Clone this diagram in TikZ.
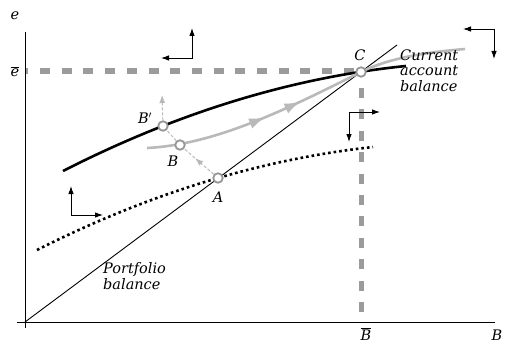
\documentclass[tikz,border=0pt]{standalone}
\usepackage{fontspec}
\setmainfont{DejaVu Serif}
\usetikzlibrary{arrows.meta,decorations.markings}
\definecolor{lg}{RGB}{185,185,185}
\definecolor{dg}{RGB}{155,155,155}
\definecolor{cg}{RGB}{150,150,150}
\begin{document}
\begin{tikzpicture}[x=1pt,y=-1pt,
  lab/.style={font=\fontsize{14.5}{15.5}\selectfont\itshape, inner sep=0pt},
  axisline/.style={line width=0.9pt},
  pt/.style={circle, draw=cg, fill=white, line width=1.8pt, minimum size=9.5pt, inner sep=0pt},
  elbow/.style={line width=0.9pt, {Latex[length=8pt,width=5.5pt]}-{Latex[length=8pt,width=5.5pt]}},
  hguide/.style={dg, line width=5.5pt, dash pattern=on 10pt off 11.7pt, dash phase=6.7pt},
  vguide/.style={dg, line width=4.5pt, dash pattern=on 10pt off 11.4pt},
  dotcurve/.style={line width=2.6pt, dash pattern=on 2.6pt off 3pt},
  blackcurve/.style={line width=2.6pt},
  graycurve/.style={lg, line width=2.6pt},
  thinguide/.style={lg, line width=1pt, dash pattern=on 3pt off 2pt},
]
\useasboundingbox (0,0) rectangle (505,345);

% points
\coordinate (O) at (25,322);
\coordinate (ytop) at (25,32);
\coordinate (ybot) at (25,328);
\coordinate (xleft) at (17,322);
\coordinate (xright) at (495,322);
\coordinate (ebar) at (25,71);
\coordinate (vtop) at (361.5,88);
\coordinate (vbot) at (361.5,313);
\coordinate (pbend) at (397,45);

% guides
\draw[hguide] (ebar) -- (361,71);
\draw[vguide] (vtop) -- (vbot);

% axes
\draw[axisline] (ytop) -- (ybot);
\draw[axisline] (xleft) -- (xright);

% portfolio balance line
\draw[line width=0.9pt] (O) -- (pbend);

% dotted curve
\draw[dotcurve] (37,250) .. controls (149,193.5) and (261,159.2) .. (373,147);

% black curve
\draw[blackcurve] (63,171) .. controls (177.7,112.5) and (292.1,77.5) .. (406,66);

% gray curve
\draw[graycurve, decoration={markings,
   mark=at position 0.365 with {\arrow{Latex[length=16pt,width=11pt]}},
   mark=at position 0.48 with {\arrow{Latex[length=16pt,width=11pt]}}}, postaction={decorate}]
  (147,148) .. controls (217,144.5) and (291,107) .. (361,72) .. controls (391,57) and (430,52) .. (465,49);

% equilibrium points
\node[pt] (A) at (218,178) {};
\node[pt] (B) at (180,145) {};
\node[pt] (Bp) at (163,126) {};
\node[pt] (C) at (361,72) {};
\coordinate (Bup) at (162,95);

% adjustment path
\draw[thinguide, decoration={markings,
   mark=at position 0.63 with {\arrow[solid]{Latex[length=8pt,width=6pt]}}}, postaction={decorate}] (A) -- (B);
\draw[thinguide] (B) -- (Bp);
\draw[thinguide, -{Latex[length=8pt,width=6pt]}] (Bp) -- (Bup);

% labels
\node[lab] (le) at (15,16) {e};
\node[lab] (lebar) at (15,72) {$\overline{\mbox{\itshape e}}$};
\node[lab] (lC) at (360,55) {C};
\node[lab] (lBp) at (145,118) {B$'$};
\node[lab] (lB) at (173,161) {B};
\node[lab] (lA) at (218,197) {A};
\node[lab] (lBbar) at (366,334) {$\overline{\mbox{\itshape B}}$};
\node[lab] (lBax) at (497,335) {B};
\node[lab, align=left, anchor=base west] (ca) at (400,91) {Current\\account\\balance};
\node[lab, align=left, anchor=base west] (pb) at (103,289) {Portfolio\\balance};

% direction elbows
\coordinate (e1a) at (161,58); \coordinate (e1c) at (192,58); \coordinate (e1b) at (192,28);
\coordinate (e2a) at (463,29); \coordinate (e2c) at (494,29); \coordinate (e2b) at (494,59);
\coordinate (e3a) at (380,112); \coordinate (e3c) at (349,112); \coordinate (e3b) at (349,142);
\coordinate (e4a) at (71,186); \coordinate (e4c) at (71,215); \coordinate (e4b) at (103,215);
\draw[elbow] (e1a) -- (e1c) -- (e1b);
\draw[elbow] (e2a) -- (e2c) -- (e2b);
\draw[elbow] (e3a) -- (e3c) -- (e3b);
\draw[elbow] (e4a) -- (e4c) -- (e4b);
\end{tikzpicture}
\end{document}
